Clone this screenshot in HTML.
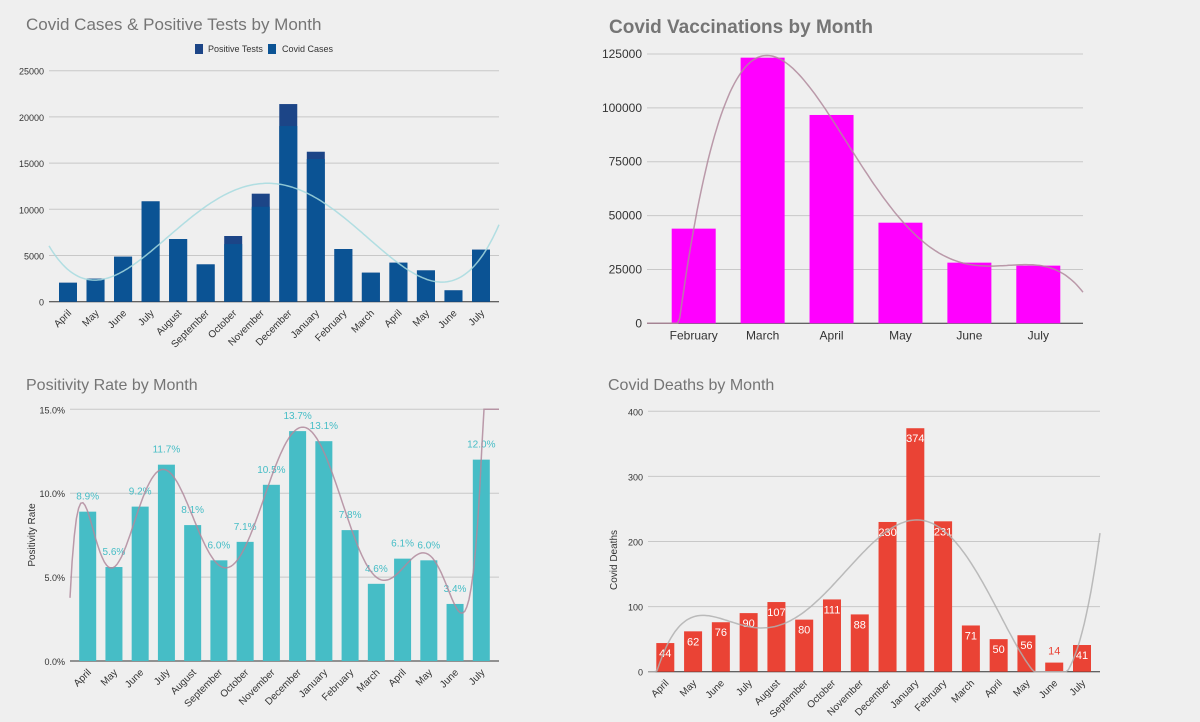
<!DOCTYPE html>
<html><head><meta charset="utf-8"><style>
html,body{margin:0;padding:0;background:#efefef;}
svg{display:block;font-family:"Liberation Sans",Arial,sans-serif;}
</style></head><body>
<svg id="s" width="1200" height="722">
<rect width="1200" height="722" fill="#efefef"/>
<text x="26" y="30" font-size="17" fill="#757575">Covid Cases &amp; Positive Tests by Month</text>
<g>
<rect x="195" y="44" width="8" height="10" fill="#1c4587"/>
<text x="208" y="52" font-size="9" fill="#333">Positive Tests</text>
<rect x="268" y="44" width="8" height="10" fill="#0b5394"/>
<text x="282" y="52" font-size="9" fill="#333">Covid Cases</text>
</g>
<text x="609" y="33" font-size="19" font-weight="bold" fill="#757575">Covid Vaccinations by Month</text>
<text x="26" y="390" font-size="16" fill="#757575">Positivity Rate by Month</text>
<text x="608" y="390" font-size="16" fill="#757575">Covid Deaths by Month</text>
<text transform="translate(35,535) rotate(-90)" text-anchor="middle" font-size="10" fill="#333">Positivity Rate</text>
<text transform="translate(617,560) rotate(-90)" text-anchor="middle" font-size="10" fill="#333">Covid Deaths</text>
</svg>
<script>
const months16 = ["April","May","June","July","August","September","October","November","December","January","February","March","April","May","June","July"];
const casesValues = [2050,2490,4870,10860,6780,4040,6240,10280,19010,15440,5700,3140,4220,3390,1230,5630];
const positiveTestsValues = [2050,2490,4870,10860,6780,4040,7110,11690,21390,16230,5700,3140,4220,3390,1230,5630];
const casesTicks = [0,5000,10000,15000,20000,25000];

const vaxMonths = ["February","March","April","May","June","July"];
const vaxValues = [43940,123300,96700,46700,28150,26760];
const vaxTicks = [0,25000,50000,75000,100000,125000];

const positivityValues = [8.9,5.6,9.2,11.7,8.1,6.0,7.1,10.5,13.7,13.1,7.8,4.6,6.1,6.0,3.4,12.0];
const positivityTicks = [0,5,10,15];

const deathsValues = [44,62,76,90,107,80,111,88,230,374,231,71,50,56,14,41];
const deathsTicks = [0,100,200,300,400];

const NS = "http://www.w3.org/2000/svg";
const svg = document.getElementById('s');
function mk(tag, attrs, parent){const e=document.createElementNS(NS,tag);for(const k in attrs)e.setAttribute(k,attrs[k]);(parent||svg).appendChild(e);return e;}

function polyfit(xs, ys, deg){
  const n=deg+1;const A=[];for(let i=0;i<n;i++){A.push(new Array(n+1).fill(0));}
  for(let k=0;k<xs.length;k++){for(let i=0;i<n;i++){for(let j=0;j<n;j++)A[i][j]+=Math.pow(xs[k],i+j);A[i][n]+=ys[k]*Math.pow(xs[k],i);}}
  for(let i=0;i<n;i++){let p=i;for(let r=i+1;r<n;r++)if(Math.abs(A[r][i])>Math.abs(A[p][i]))p=r;[A[i],A[p]]=[A[p],A[i]];
    for(let r=0;r<n;r++){if(r===i)continue;const f=A[r][i]/A[i][i];for(let c=i;c<=n;c++)A[r][c]-=f*A[i][c];}}
  return A.map((r,i)=>r[n]/r[i]);
}

function chart(cfg){
  const g=mk('g',{});
  
  
  const n=cfg.cats.length;
  const xs=i=>cfg.c0+(cfg.c1-cfg.c0)*i/(n-1);
  const ys=v=>cfg.y0-(cfg.y0-cfg.yTop)*v/cfg.max;
  cfg.ticks.forEach(t=>{
    const y=ys(t);
    const l=mk('line',{x1:cfg.px0,x2:cfg.px1,y1:y,y2:y,stroke:t===0?'#333':'#c8c8c8','stroke-width':1},g);
    
    
    const tx=mk('text',{x:cfg.px0-5,y:y+4,'text-anchor':'end','font-size':cfg.tickFs||10,fill:'#333'},g);
    tx.textContent=cfg.fmt?cfg.fmt(t):String(t);
    
    
  });
  cfg.cats.forEach((c,i)=>{
    const cx=xs(i);
    if(cfg.back){
      const b=mk('rect',{x:cx-cfg.bw/2,y:ys(cfg.back[i]),width:cfg.bw,height:cfg.y0-ys(cfg.back[i]),fill:cfg.backColor},g);
      
      
    }
    const v=cfg.vals[i];
    const r=mk('rect',{x:cx-cfg.bw/2,y:ys(v),width:cfg.bw,height:cfg.y0-ys(v),fill:cfg.color},g);
    
    
    let lab;
    if(cfg.rot){
      lab=mk('text',{transform:`translate(${cx+4},${cfg.y0+12}) rotate(-45)`,'text-anchor':'end','font-size':10,fill:'#333'},g);
    } else {
      lab=mk('text',{x:cx,y:cfg.y0+16,'text-anchor':'middle','font-size':12,fill:'#333'},g);
    }
    lab.textContent=c;
    
    
    if(cfg.valLabel){
      const inside=(cfg.y0-ys(v))>18;
      const t=mk('text',{x:cx,y:cfg.valLabel==='above'?ys(v)-12:(inside?ys(v)+14:ys(v)-8),'text-anchor':'middle','font-size':cfg.valFs||10,fill:cfg.valLabel==='above'?cfg.valColor:(inside?'#fff':cfg.color)},g);
      t.textContent=cfg.valFmt?cfg.valFmt(v):String(v);
      
      
    }
  });
  const xsN=cfg.vals.map((_,i)=>(i-(n-1)/2)/((n-1)/2));
  const co=polyfit(xsN,cfg.trendSrc||cfg.vals,cfg.deg);
  let d='';const x0=cfg.px0,x1=cfg.px1;
  for(let p=0;p<=200;p++){
    const px=x0+(x1-x0)*p/200;
    const xi=(px-cfg.c0)/(cfg.c1-cfg.c0)*(n-1);
    const xn=(xi-(n-1)/2)/((n-1)/2);
    let v=0;co.forEach((c,k)=>v+=c*Math.pow(xn,k));
    let py=Math.max(cfg.yTop,Math.min(cfg.y0,ys(v)));
    d+=(p?'L':'M')+px.toFixed(1)+','+py.toFixed(1);
  }
  const tl=mk('path',{d:d,fill:'none',stroke:cfg.trendColor,'stroke-width':1.5,opacity:0.85},g);
  
  
}

chart({name:'cases-chart',cats:months16,vals:casesValues,back:positiveTestsValues,backColor:'#1c4587',color:'#0b5394',ticks:casesTicks,max:25000,y0:301.7,yTop:70.7,px0:49,px1:499,c0:68,c1:481,bw:18,rot:true,deg:4,trendSrc:positiveTestsValues,trendColor:'#a6dadf',tickFs:9});
chart({name:'vaccinations-chart',cats:vaxMonths,vals:vaxValues,color:'#ff00ff',ticks:vaxTicks,max:125000,y0:323.3,yTop:54,px0:647,px1:1083,c0:693.7,c1:1038.3,bw:44,rot:false,deg:4,trendColor:'#b08a9c',tickFs:12});
chart({name:'positivity-chart',cats:months16,vals:positivityValues,color:'#46bdc6',ticks:positivityTicks,max:15,y0:661,yTop:409.3,px0:70,px1:499,c0:87.7,c1:481.3,bw:17,rot:true,deg:10,trendColor:'#b08a9c',fmt:t=>t.toFixed(1)+'%',valLabel:'above',valColor:'#46bdc6',valFmt:v=>v.toFixed(1)+'%',tickFs:9});
chart({name:'deaths-chart',cats:months16,vals:deathsValues,color:'#ea4335',ticks:deathsTicks,max:400,y0:671.7,yTop:411.3,px0:648,px1:1100,c0:665.3,c1:1082,bw:18,rot:true,deg:5,trendColor:'#b0b0b0',valLabel:'inside',valFs:11,tickFs:9});
</script>
</body></html>
